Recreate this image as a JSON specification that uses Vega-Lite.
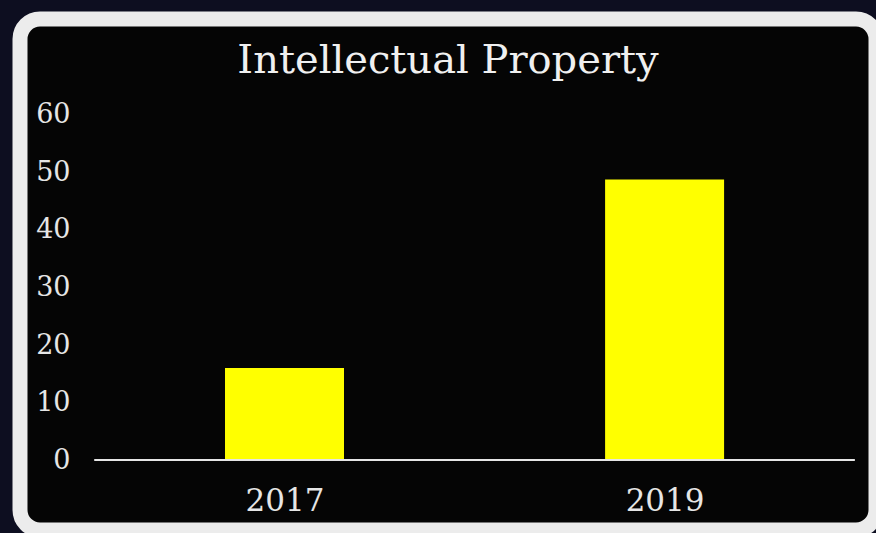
{
  "$schema": "https://vega.github.io/schema/vega-lite/v6.json",
  "autosize": "none",
  "width": 856,
  "height": 511,
  "padding": {"left": 20, "top": 19, "right": 0, "bottom": 3},
  "background": "#0d0e20",
  "config": {
    "view": {"fill": "#050505", "stroke": "#ececec", "strokeWidth": 15, "cornerRadius": 20},
    "font": "DejaVu Serif"
  },
  "title": {
    "text": "Intellectual Property",
    "font": "DejaVu Serif",
    "fontSize": 40,
    "fontWeight": "normal",
    "color": "#f0f0f0",
    "anchor": "middle",
    "baseline": "alphabetic",
    "offset": -94
  },
  "data": {"values": [
    {"year": 2017, "value": 16},
    {"year": 2019, "value": 48.8}
  ]},
  "layer": [
    {
      "mark": {"type": "bar", "color": "#ffff00", "width": 119},
      "encoding": {
        "x": {
          "field": "year", "type": "quantitative",
          "scale": {"domain": [2015.6345, 2020.0861], "nice": false, "zero": false},
          "axis": {
            "values": [2017, 2019], "format": "d", "title": null,
            "domain": false, "ticks": false, "tickSize": 0, "grid": false,
            "labelPadding": 0, "offset": -20, "labelBaseline": "alphabetic",
            "labelFont": "DejaVu Serif", "labelFontSize": 31, "labelColor": "#e6e6e6"
          }
        },
        "y": {
          "field": "value", "type": "quantitative",
          "scale": {"domain": [-12.17, 76.69], "nice": false, "zero": false},
          "axis": {
            "values": [0, 10, 20, 30, 40, 50, 60], "title": null,
            "domain": false, "ticks": false, "tickSize": 0, "grid": false,
            "labelPadding": 0, "offset": -50,
            "labelFont": "DejaVu Serif", "labelFontSize": 27, "labelColor": "#e6e6e6"
          }
        }
      }
    },
    {
      "mark": {"type": "rule", "color": "#e6e6e6", "strokeWidth": 2},
      "encoding": {
        "y": {"datum": 0},
        "x": {"datum": 2016},
        "x2": {"datum": 2020}
      }
    }
  ]
}
